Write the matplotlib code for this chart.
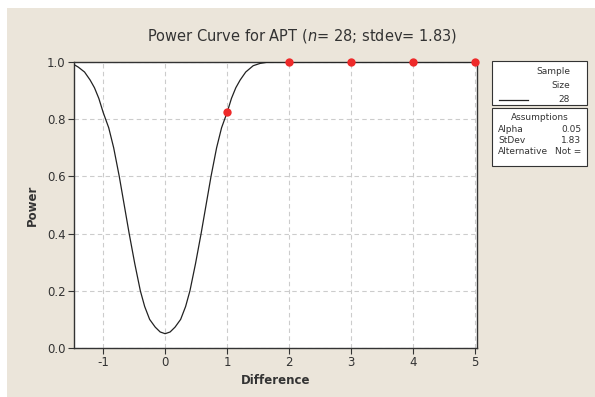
import numpy as np
import matplotlib
matplotlib.use("Agg")
import matplotlib.pyplot as plt
from matplotlib.patches import Rectangle
from matplotlib.lines import Line2D

# power curve
diff = [-1.47, -1.40, -1.30, -1.21, -1.14, -1.07, -1.00, -0.91, -0.83, -0.74,
        -0.66, -0.58, -0.49, -0.40, -0.33, -0.25, -0.16, -0.08,
        0.00, 0.08, 0.16, 0.25, 0.33, 0.40, 0.49, 0.58, 0.66, 0.74,
        0.83, 0.91, 1.00, 1.07, 1.14, 1.21, 1.30, 1.42, 1.53, 1.64, 1.80, 5.03]
power = [0.991, 0.982, 0.965, 0.937, 0.910, 0.873, 0.824, 0.770, 0.700, 0.600,
         0.500, 0.400, 0.295, 0.200, 0.145, 0.100, 0.073, 0.056,
         0.050, 0.056, 0.073, 0.100, 0.145, 0.200, 0.295, 0.400, 0.500, 0.600,
         0.700, 0.770, 0.824, 0.873, 0.910, 0.937, 0.965, 0.987, 0.995, 0.999, 1.000, 1.000]

# red points
pt_diff = [1, 2, 3, 4, 5]
pt_power = [0.824, 1.0, 1.0, 1.0, 1.0]

xticks = [-1, 0, 1, 2, 3, 4, 5]
yticks = [0.0, 0.2, 0.4, 0.6, 0.8, 1.0]

W, H = 595, 397
beige = "#ebe5da"

fig = plt.figure(figsize=(W / 100, H / 100), dpi=100, facecolor="white")
fig.patches.append(Rectangle((7 / W, 0), 1, 1 - 8 / H, transform=fig.transFigure,
                             facecolor=beige, edgecolor="none", zorder=-10))

ax = fig.add_axes([74 / W, 1 - 348 / H, (477 - 74) / W, (348 - 62) / H])
ax.set_facecolor("white")
ax.plot(diff, power, color="#222222", lw=0.9, zorder=3)
ax.plot(pt_diff, pt_power, "o", color="#ee2a2a", ms=6, mec="none", clip_on=False, zorder=5)

ax.set_xlim(-1.47, 5.03)
ax.set_ylim(0, 1.0)
ax.set_xticks(xticks)
ax.set_yticks(yticks)
ax.set_xticklabels([str(v) for v in xticks])
ax.set_yticklabels([f"{v:.1f}" for v in yticks])
ax.grid(True, color="#cccccc", ls=(0, (4, 3)), lw=0.8)
ax.set_axisbelow(True)
for s in ax.spines.values():
    s.set_color("#333333")
    s.set_linewidth(1.0)
ax.tick_params(direction="out", length=4, width=0.8, color="#333333",
               labelsize=8.5, labelcolor="#333333", pad=2)

ax.set_xlabel("Difference", fontsize=8.5, fontweight="bold", color="#333333", labelpad=3)
ax.set_ylabel("Power", fontsize=8.5, fontweight="bold", color="#333333", labelpad=6)

fig.text(302 / W, 1 - 36 / H, "Power Curve for APT ($n$= 28; stdev= 1.83)",
         ha="center", va="center", fontsize=10.5, color="#333333")

# legend boxes
def fx(x):
    return x / W

def fy(y):
    return 1 - y / H

fig.patches.append(Rectangle((fx(492), fy(105)), fx(587) - fx(492), fy(61) - fy(105),
                             transform=fig.transFigure, facecolor="white",
                             edgecolor="#333333", lw=0.8))
fig.patches.append(Rectangle((fx(492), fy(166)), fx(587) - fx(492), fy(108) - fy(166),
                             transform=fig.transFigure, facecolor="white",
                             edgecolor="#333333", lw=0.8))

fs = 6.5
tc = "#333333"
fig.text(fx(570), fy(72), "Sample", ha="right", va="center", fontsize=fs, color=tc)
fig.text(fx(570), fy(86), "Size", ha="right", va="center", fontsize=fs, color=tc)
fig.text(fx(570), fy(100), "28", ha="right", va="center", fontsize=fs, color=tc)
fig.lines.append(Line2D([fx(499), fx(528)], [fy(100), fy(100)], transform=fig.transFigure,
                        color="#222222", lw=0.9))

fig.text(fx(540), fy(117), "Assumptions", ha="center", va="center", fontsize=fs, color=tc)
rows = [("Alpha", "0.05"), ("StDev", "1.83"), ("Alternative", "Not =")]
for i, (k, v) in enumerate(rows):
    yy = 129 + i * 11.5
    fig.text(fx(498), fy(yy), k, ha="left", va="center", fontsize=fs, color=tc)
    fig.text(fx(581), fy(yy), v, ha="right", va="center", fontsize=fs, color=tc)

fig.savefig("out.png", dpi=100, facecolor=fig.get_facecolor())
